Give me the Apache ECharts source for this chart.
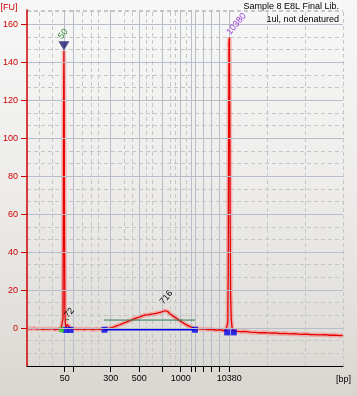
<!DOCTYPE html>
<html>
<head>
<meta charset="utf-8">
<script src="https://cdn.jsdelivr.net/npm/echarts@6/dist/echarts.min.js"></script>
<style>
html,body{margin:0;padding:0;}
body{width:357px;height:396px;background:linear-gradient(to bottom,#f7f7f7 0%,#eeedeb 45%,#e2e0dc 80%,#d9d6d0 100%);}
#c{width:357px;height:396px;}
</style>
</head>
<body>
<div id="c"></div>
<script>
// ---- data (x = migration position units along the time axis, y = fluorescence [FU]) ----
const ladderBp  = [50, 100, 300, 500, 700, 1000, 1500, 2000, 3000, 4000, 7000, 10380];
const ladderPos = [37.7, 46.3, 83.7, 112.3, 135.3, 153.7, 164.7, 168.3, 176.3, 184.7, 192.3, 202.3];
const labeledBp = [50, 300, 500, 1000, 10380];
const minorGridPos = [12, 25, 55, 64, 71, 97, 105, 119, 125, 143, 148, 159, 240, 278.5, 316];
const yTicks = [0, 20, 40, 60, 80, 100, 120, 140, 160];

const trace = [
 [1,-0.3],[4,-0.5],[7,-0.2],[10,-0.6],[13,-0.3],[16,-0.7],[19,-0.4],[22,-0.6],[25,-0.3],[28,-0.8],[31,-0.5],[34,-0.6],[35.5,-0.4],
 [36.0,5],[36.3,50],[36.6,120],[36.9,146],[37.2,118],[37.5,50],[37.8,12],[38.2,3],[38.8,0.5],
 [39.5,0.2],[40.2,1.8],[41,2.8],[41.7,2.2],[42.5,0.6],[43.5,-0.3],[45,-0.6],
 [48,-0.4],[51,-0.7],[54,-0.5],[57,-0.8],[60,-0.4],[63,-0.6],[66,-0.9],[69,-0.5],[72,-0.7],[75,-0.6],[78,-0.5],[81,-0.3],
 [83,0],[86,0.4],[89,1.0],[92,1.6],[95,2.2],[98,2.9],[101,3.5],[104,4.1],[107,4.8],[110,5.4],[113,5.9],[116,6.5],[119,6.9],
 [122,7.1],[124,7.0],[126,7.4],[128,7.6],[130,7.8],[132,7.9],[134,8.4],[136,8.6],[138,9.1],[139.5,9.4],[141,8.6],[143,7.4],
 [145,6.8],[147,6.0],[149,5.2],[151,4.5],[153,3.8],[155,3.1],[157,2.4],[159,1.8],[161,1.2],[163,0.7],[165,0.2],[167,-0.2],
 [169,-0.4],[172,-0.4],[175,-0.6],[178,-0.5],[181,-0.8],[184,-0.7],[187,-0.9],[190,-1.1],[193,-0.9],[196,-1.3],[199,-1.2],[200.5,-1.0],
 [200.8,3],[201.2,30],[201.6,95],[202.0,150],[202.4,153],[202.8,115],[203.2,50],[203.6,18],[204.2,5],[205,0.5],[206,-1.3],
 [209,-1.6],[213,-1.9],[218,-1.8],[223,-2.2],[228,-2.3],[233,-2.5],[238,-2.4],[243,-2.7],[248,-2.6],[253,-2.9],[258,-2.8],
 [263,-3.1],[268,-3.0],[273,-3.3],[278,-3.2],[283,-3.4],[288,-3.5],[293,-3.6],[298,-3.5],[303,-3.8],[308,-3.7],[313,-4.0],[315.7,-3.9]
];

const peakLabels = ['50', '72', '716', '10380'];
const peakPos    = [36.9, 41, 139.5, 202.4];
const peakVal    = [146, 2.8, 9.4, 153];

const markerTop   = [[36.9, 146]];
const greenDots   = [[34.5, -0.9]];
const blueDots    = [[38.5, -1.0], [43.5, -1.0], [77.5, -0.9], [168, -0.9], [200.2, -2.3], [206.8, -2.3]];
const regionBase  = [[77.5, -0.9], [168, -0.9]];
const regionLevel = [[77, 4.2], [168, 4.2]];
const smallLevel  = [[39, 4.4], [42, 4.4]];

const titleLines = ['Sample 8 E8L Final Lib.', '1ul, not denatured'];

// ---- chart ----
const FONT = 'Liberation Sans, Arial, sans-serif';
const chart = echarts.init(document.getElementById('c'), null, {renderer: 'canvas'});
const labelPos = labeledBp.map(b => ladderPos[ladderBp.indexOf(b)]);

const option = {
  animation: false,
  backgroundColor: 'transparent',
  grid: {left: 27, right: 14, top: 10, bottom: 30, show: false},
  xAxis: [{
    type: 'value', min: 0, max: 316, z: 10,
    axisLine: {show: true, onZero: false, lineStyle: {color: '#000', width: 1}},
    axisTick: {show: true, customValues: ladderPos, length: 6, lineStyle: {color: '#000'}},
    axisLabel: {show: true, customValues: labelPos, color: '#000', fontSize: 9, fontFamily: FONT, margin: 8,
      formatter: v => { const i = ladderPos.indexOf(v); return i >= 0 ? String(ladderBp[i]) : ''; }},
    splitLine: {show: false}
  }],
  yAxis: [{
    type: 'value', min: -20, max: 167.5, interval: 20, z: 9,
    axisLine: {show: true, onZero: false, lineStyle: {color: '#cc0000', width: 1.5}},
    axisTick: {show: true, customValues: yTicks, length: 6, lineStyle: {color: '#cc0000'}},
    axisLabel: {show: true, customValues: yTicks, color: '#cc0000', fontSize: 9, fontFamily: FONT, margin: 9},
    splitLine: {show: true, lineStyle: {color: '#b7bec9', width: 1}}
  }, {
    type: 'value', min: -20, max: 167.5, interval: 20 / 3, position: 'left', z: 1,
    axisLine: {show: false}, axisTick: {show: false}, axisLabel: {show: false},
    splitLine: {show: true, lineStyle: {color: '#c6c6c6', width: 1, type: [4, 3]}}
  }],
  series: [
    { type: 'line', name: 'gridMinor', data: [], z: 1, silent: true,
      markLine: {silent: true, symbol: 'none', label: {show: false}, animation: false,
        lineStyle: {color: '#c6c6c6', width: 1, type: [4, 3]},
        data: minorGridPos.map(x => ({xAxis: x}))}},
    { type: 'line', name: 'gridLadder', data: [], z: 2, silent: true,
      markLine: {silent: true, symbol: 'none', label: {show: false}, animation: false,
        lineStyle: {color: '#b7bec9', width: 1, type: 'solid'},
        data: ladderPos.map(x => ({xAxis: x}))}},
    { type: 'line', name: 'halo', data: trace, showSymbol: false, z: 4, silent: true,
      lineStyle: {color: 'rgba(255,80,80,0.35)', width: 4.5}},
    { type: 'line', name: 'trace', data: trace, showSymbol: false, z: 5, silent: true,
      lineStyle: {color: '#e80000', width: 1.3}},
    { type: 'line', name: 'level', data: regionLevel, showSymbol: false, z: 6,
      lineStyle: {color: '#2e7d4f', width: 1}},
    { type: 'line', name: 'level2', data: smallLevel, showSymbol: false, z: 6,
      lineStyle: {color: '#2e7d4f', width: 1}},
    { type: 'line', name: 'base', data: regionBase, showSymbol: false, z: 6,
      lineStyle: {color: '#0000e6', width: 1.5}},
    { type: 'scatter', name: 'blue', data: blueDots, symbol: 'rect', symbolSize: 6, z: 7,
      itemStyle: {color: '#0000e6'}},
    { type: 'scatter', name: 'green', data: greenDots, symbol: 'rect', symbolSize: 5, z: 7,
      itemStyle: {color: '#22cc22'}},
    { type: 'scatter', name: 'markerTri', data: markerTop, symbol: 'triangle', symbolRotate: 180,
      symbolSize: [11, 9], symbolOffset: [0, -5], z: 8, itemStyle: {color: '#1c1c6e'}}
  ]
};
chart.setOption(option);

// annotations positioned through the chart's own scales
const labelStyle = [
  {color: '#2a8a2a', dx: -4, dy: -13},
  {color: '#000000', dx: -2, dy: -6},
  {color: '#000000', dx: -5, dy: -7},
  {color: '#9a3cd6', dx: -1, dy: -4}
];
const graphics = [];
peakLabels.forEach((t, i) => {
  const p = chart.convertToPixel({gridIndex: 0}, [peakPos[i], peakVal[i]]);
  graphics.push({type: 'text', x: p[0] + labelStyle[i].dx, y: p[1] + labelStyle[i].dy,
    rotation: Math.PI * 50 / 180, z: 20,
    style: {text: t, fill: labelStyle[i].color, font: '9px ' + FONT, textAlign: 'left', textVerticalAlign: 'middle'}});
});
graphics.push({type: 'text', x: 339, y: 6.5, z: 20,
  style: {text: titleLines[0], fill: '#000', font: '9px ' + FONT, textAlign: 'right', textVerticalAlign: 'middle'}});
graphics.push({type: 'text', x: 339, y: 19.5, z: 20,
  style: {text: titleLines[1], fill: '#000', font: '9px ' + FONT, textAlign: 'right', textVerticalAlign: 'middle'}});
graphics.push({type: 'text', x: 0.5, y: 7.2, z: 20,
  style: {text: '[FU]', fill: '#cc0000', font: '9px ' + FONT, textAlign: 'left', textVerticalAlign: 'middle'}});
graphics.push({type: 'text', x: 336, y: 379.5, z: 20,
  style: {text: '[bp]', fill: '#000', font: '9px ' + FONT, textAlign: 'left', textVerticalAlign: 'middle'}});
chart.setOption({graphic: graphics});
</script>
</body>
</html>
